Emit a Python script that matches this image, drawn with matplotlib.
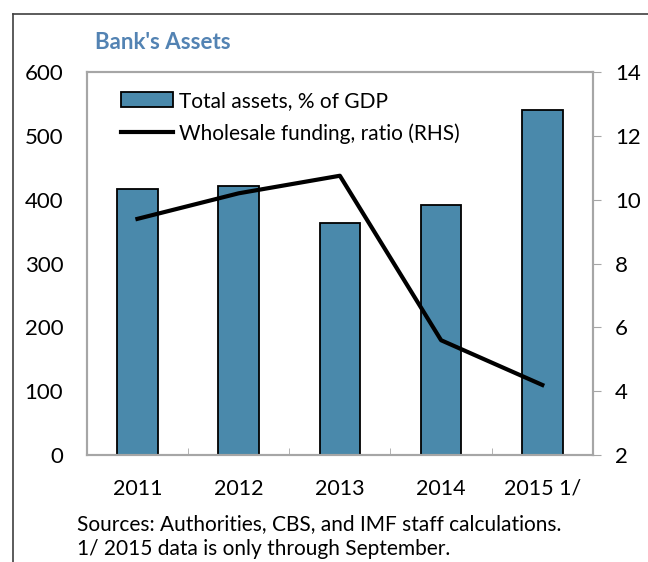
import numpy as np
import matplotlib

matplotlib.use('Agg')
import matplotlib.pyplot as plt
from matplotlib.lines import Line2D

plt.rcParams['font.family'] = ['Lato', 'DejaVu Sans']

# данные
years = ['2011', '2012', '2013', '2014', '2015 1/']
assets = [417, 422, 364, 392, 540]          # % ВВП, левая ось
wholesale = [9.4, 10.2, 10.75, 5.6, 4.2]    # коэффициент, правая ось

bar_color = '#4A89AB'
grid_gray = '#a6a6a6'

fig = plt.figure(figsize=(6.48, 5.62), dpi=100)
ax = fig.add_axes([0.134, 0.19, 0.781, 0.682])
ax2 = ax.twinx()

x = np.arange(len(years))
ax.bar(x, assets, width=0.4, color=bar_color, edgecolor='black', linewidth=1.3,
       label='Total assets, % of GDP', zorder=2)
ax2.plot(x, wholesale, color='black', linewidth=3, label='Wholesale funding, ratio (RHS)')

ax.set_xlim(-0.5, len(years) - 0.5)
ax.set_ylim(0, 600)
ax.set_yticks(range(0, 601, 100))
ax2.set_ylim(2, 14)
ax2.set_yticks(range(2, 15, 2))

ax.set_xticks(x)
ax.set_xticklabels(years)
ax.set_xticks(np.arange(-0.5, len(years)), minor=True)
ax.tick_params(axis='x', which='major', length=0, labelsize=15.5, pad=17)
ax.tick_params(axis='x', which='minor', direction='in', length=5, color=grid_gray)
ax.tick_params(axis='y', length=0, labelsize=16, pad=17)
ax2.tick_params(axis='y', length=6, color=grid_gray, labelsize=16, pad=10)

for a in (ax, ax2):
    for s in a.spines.values():
        s.set_color(grid_gray)
        s.set_linewidth(1.5)

handles = [plt.Rectangle((0, 0), 1, 1, facecolor=bar_color, edgecolor='black', linewidth=1.3),
           Line2D([0], [0], color='black', linewidth=3)]
labels = ['Total assets, % of GDP', 'Wholesale funding, ratio (RHS)']
ax.legend(handles, labels, loc='upper left', bbox_to_anchor=(0.03, 1.0), frameon=False,
          fontsize=15, handlelength=2.5, handletextpad=0.3, labelspacing=0.6)

fig.text(0.147, 0.913, "Bank's Assets", color='#5383B3', fontsize=16, fontweight='bold')
fig.text(0.119, 0.057, 'Sources: Authorities, CBS, and IMF staff calculations.', fontsize=15)
fig.text(0.119, 0.013, '1/ 2015 data is only through September.', fontsize=15)

# рамка вокруг рисунка
fig.add_artist(Line2D([0.02, 0.02], [0, 0.975], color='#404040', linewidth=1.2))
fig.add_artist(Line2D([0.02, 1.0], [0.975, 0.975], color='#404040', linewidth=1.2))

fig.savefig('out.png', dpi=100)
